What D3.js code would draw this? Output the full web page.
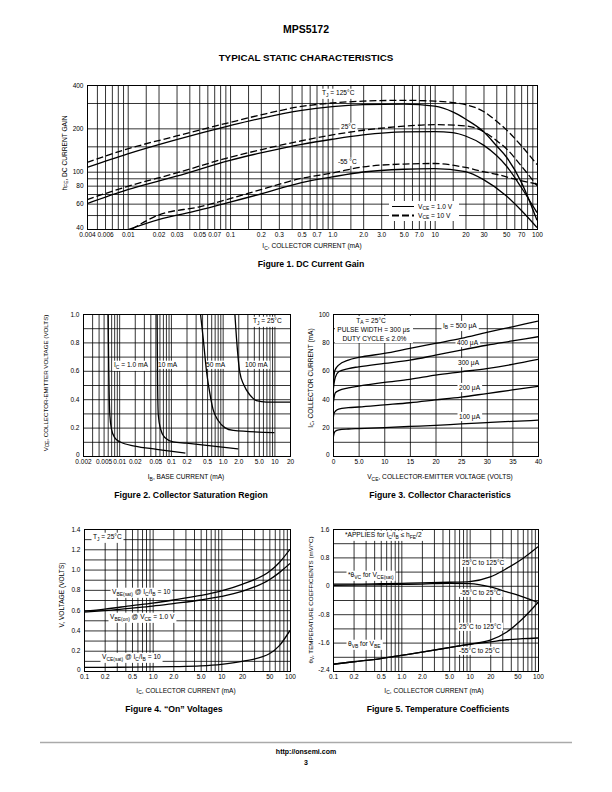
<!DOCTYPE html>
<html><head><meta charset="utf-8">
<script src="https://cdn.jsdelivr.net/npm/d3@7"></script>
<style>
body{margin:0;background:#fff}
svg text{font-family:"Liberation Sans",Arial,Helvetica,sans-serif;fill:#000}
</style></head><body>
<svg id="page" width="612" height="792" xmlns="http://www.w3.org/2000/svg"></svg>
<script>
// ================= DATA =================
// Figure 1 – DC current gain (IC mA, hFE)
const fig1XTicks = [0.004,0.006,0.01,0.02,0.03,0.05,0.07,0.1,0.2,0.3,0.5,0.7,1,2,3,5,7,10,20,30,50,70,100];
const fig1XLabels = ["0.004","0.006","0.01","0.02","0.03","0.05","0.07","0.1","0.2","0.3","0.5","0.7","1.0","2.0","3.0","5.0","7.0","10","20","30","50","70","100"];
const fig1YTicks = [40,60,80,100,200,400];
const fig1YLabels = ["40","60","80","100","200","400"];
const fig1YGrid = [50,60,70,80,90,100,150,200,300];
const hfe125V1  = [[0.004,107],[0.01,133],[0.03,167],[0.1,209],[0.2,235],[0.5,267],[1,283],[2,292],[5,295],[10,285],[15,260],[20,232],[30,190],[40,152],[50,127],[70,85],[100,46]];
const hfe125V10 = [[0.004,116],[0.01,144],[0.03,177],[0.1,220],[0.2,248],[0.5,284],[1,300],[2,309],[5,313],[10,309],[20,292],[30,262],[40,225],[50,196],[70,152],[100,112]];
const hfe25V1   = [[0.004,60],[0.01,75],[0.03,93],[0.1,120],[0.2,135],[0.5,155],[1,168],[2,180],[5,189],[10,190],[15,187],[20,177],[30,153],[40,130],[50,110],[70,78],[100,52]];
const hfe25V10  = [[0.004,64],[0.01,79],[0.03,98],[0.1,126],[0.2,142],[0.5,164],[1,180],[2,194],[5,207],[10,212],[20,208],[30,190],[40,165],[50,145],[70,110],[100,80]];
const hfe55V1   = [[0.0095,39],[0.02,46.5],[0.05,54],[0.1,61.5],[0.2,70],[0.5,84],[1,92],[2,99.5],[5,104],[10,105],[20,100],[30,88],[50,68],[70,54],[100,41]];
const hfe55V10  = [[0.011,40],[0.02,50],[0.05,57],[0.1,65],[0.2,75],[0.5,90],[1,98],[2,108],[5,113],[10,114],[20,107],[30,100],[40,96],[60,89],[100,82]];

// Figure 2 – collector saturation region (IB mA, VCE V)
const fig2XTicks = [0.002,0.005,0.01,0.02,0.05,0.1,0.2,0.5,1,2,5,10,20];
const fig2XLabels = ["0.002","0.005","0.01","0.02","0.05","0.1","0.2","0.5","1.0","2.0","5.0","10","20"];
const fig2YTicks = [0,0.2,0.4,0.6,0.8,1.0];
const fig2YLabels = ["0","0.2","0.4","0.6","0.8","1.0"];
const fig2YGrid = [0.1,0.2,0.3,0.4,0.5,0.6,0.7,0.8,0.9];
const sat1mA   = [[0.0061,1.0],[0.0063,0.59],[0.0066,0.29],[0.0071,0.19],[0.0082,0.13],[0.0103,0.10],[0.02,0.07],[0.053,0.047],[0.19,0.02]];
const sat10mA  = [[0.054,1.0],[0.055,0.59],[0.057,0.29],[0.063,0.19],[0.076,0.13],[0.11,0.10],[0.2,0.09],[0.49,0.075],[2.0,0.05]];
const sat50mA  = [[0.373,1.0],[0.42,0.83],[0.49,0.59],[0.56,0.45],[0.65,0.33],[0.82,0.25],[1.1,0.20],[1.6,0.18],[10,0.165]];
const sat100mA = [[1.72,1.0],[1.85,0.83],[2.14,0.59],[2.57,0.50],[3.35,0.43],[4.5,0.39],[7,0.38],[20,0.38]];

// Figure 3 – collector characteristics (VCE V, IC mA)
const fig3XTicks = [0,5,10,15,20,25,30,35,40];
const fig3XLabels = ["0","5.0","10","15","20","25","30","35","40"];
const fig3XGrid = [5,10,15,20,25,30,35];
const fig3YTicks = [0,20,40,60,80,100];
const fig3YLabels = ["0","20","40","60","80","100"];
const fig3YGrid = [10,20,30,40,50,60,70,80,90];
const ib100 = [[0,12],[0.2,15.8],[0.45,17.4],[1.1,18.4],[3,19],[5,19.3],[10,20],[15,20.8],[20,21.6],[25,22.6],[30,23.5],[35,24.4],[40,25.2]];
const ib200 = [[0,25],[0.2,30],[0.45,31.5],[1.1,33],[3,34],[5,34.5],[10,36],[15,37.5],[20,39.5],[25,41.5],[30,44],[35,46.5],[40,49]];
const ib300 = [[0,36],[0.2,41],[0.45,44.5],[1.1,46],[3,48],[5,49.2],[10,51.8],[15,54],[20,57],[25,59.3],[30,61.6],[35,64.5],[40,68]];
const ib400 = [[0,45],[0.2,51],[0.45,55.5],[1.1,59.3],[3,61.6],[5,62.8],[10,65.2],[15,67.5],[20,71],[25,74.6],[30,78],[35,81],[40,84]];
const ib500 = [[0,48],[0.15,55],[0.35,60],[1.1,64],[3,67.5],[5,69.4],[10,72.2],[15,75.8],[20,79.3],[25,82.8],[30,87],[35,91],[40,95]];

// Figure 4 – "On" voltages (IC mA, V)
const fig4XTicks = [0.1,0.2,0.5,1,2,5,10,20,50,100];
const fig4XLabels = ["0.1","0.2","0.5","1.0","2.0","5.0","10","20","50","100"];
const fig4YTicks = [0,0.2,0.4,0.6,0.8,1.0,1.2,1.4];
const fig4YLabels = ["0","0.2","0.4","0.6","0.8","1.0","1.2","1.4"];
const fig4YGrid = [0.1,0.2,0.3,0.4,0.5,0.6,0.7,0.8,0.9,1.0,1.1,1.2,1.3];
const vbeSat = [[0.1,0.59],[0.2,0.61],[0.5,0.645],[1,0.67],[2,0.70],[5,0.745],[10,0.79],[20,0.855],[50,0.98],[70,1.07],[100,1.2]];
const vbeOn  = [[0.1,0.58],[0.2,0.595],[0.5,0.62],[1,0.64],[2,0.665],[5,0.70],[10,0.735],[20,0.785],[50,0.9],[70,0.97],[100,1.06]];
const vceSat = [[0.1,0.035],[0.2,0.036],[0.5,0.038],[1,0.04],[2,0.043],[5,0.05],[10,0.065],[20,0.095],[50,0.17],[70,0.25],[100,0.40]];

// Figure 5 – temperature coefficients (IC mA, mV/°C)
const fig5XTicks = [0.1,0.2,0.5,1,2,5,10,20,50,100];
const fig5XLabels = ["0.1","0.2","0.5","1.0","2.0","5.0","10","20","50","100"];
const fig5YTicks = [-2.4,-1.6,-0.8,0,0.8,1.6];
const fig5YLabels = ["-2.4","-1.6","-0.8","0","0.8","1.6"];
const fig5YGrid = [-2.0,-1.6,-1.2,-0.8,-0.4,0,0.4,0.8,1.2];
const tcVcHi = [[0.1,0.05],[0.2,0.05],[0.5,0.06],[1,0.07],[2,0.08],[5,0.1],[10,0.12],[20,0.25],[35,0.49],[60,0.77],[100,1.1]];
const tcVcLo = [[0.1,0.01],[0.2,0.02],[0.5,0.03],[1,0.04],[2,0.05],[5,0.07],[10,0.06],[20,-0.03],[35,-0.17],[60,-0.31],[100,-0.47]];
const tcVbHi = [[0.1,-2.21],[0.2,-2.14],[0.5,-2.05],[1,-1.96],[2,-1.87],[5,-1.74],[10,-1.64],[20,-1.53],[35,-1.3],[60,-0.92],[100,-0.47]];
const tcVbLo = [[0.1,-2.21],[0.2,-2.14],[0.5,-2.05],[1,-1.96],[2,-1.87],[5,-1.74],[10,-1.65],[20,-1.58],[35,-1.52],[60,-1.49],[100,-1.47]];

// ================= DRAWING =================
const svg = d3.select('#page');
const FS = 6.6, TFS = 6.5;

function logGrid(lo, hi, mults) {
  const out = [];
  for (let e = Math.floor(Math.log10(lo)); e <= Math.ceil(Math.log10(hi)); e++)
    for (const m of mults) {
      const v = +(m * Math.pow(10, e)).toPrecision(6);
      if (v > lo * 1.0001 && v < hi * 0.9999) out.push(v);
    }
  return out;
}

function rich(t, str, fs) {
  const re = /_\{([^}]*)\}/g; let last = 0, m, pend = 0;
  const add = (s, sub) => {
    const ts = t.append('tspan').text(s);
    if (sub) { ts.attr('font-size', (fs * 0.75).toFixed(2)).attr('dy', (fs * 0.3).toFixed(2)); pend = -fs * 0.3; }
    else { if (pend) ts.attr('dy', pend.toFixed(2)); pend = 0; }
  };
  while ((m = re.exec(str))) { if (m.index > last) add(str.slice(last, m.index), false); add(m[1], true); last = re.lastIndex; }
  if (last < str.length) add(str.slice(last), false);
  return t;
}

function txt(g, x, y, str, o = {}) {
  const fs = o.fs || FS;
  const t = g.append('text').attr('x', x).attr('y', y).attr('font-size', fs)
    .attr('text-anchor', o.anchor || 'start');
  if (o.bold) t.attr('font-weight', 'bold');
  if (o.rotate) t.attr('transform', `rotate(-90,${x},${y})`);
  rich(t, str, fs);
  if (o.box) {
    const bb = t.node().getBBox();
    const px = o.padX ?? 1.5, py = o.padY ?? 0.6;
    g.insert('rect', () => t.node()).attr('x', bb.x - px).attr('y', bb.y - py)
      .attr('width', bb.width + 2 * px).attr('height', bb.height + 2 * py).attr('fill', '#fff');
  }
  return t;
}

function plot(o) {
  const g = svg.append('g');
  const x = (o.xLog ? d3.scaleLog() : d3.scaleLinear()).domain(o.xd).range([o.L, o.R]);
  const y = (o.yLog ? d3.scaleLog() : d3.scaleLinear()).domain(o.yd).range([o.B, o.T]);
  const clip = 'clip' + o.id;
  svg.append('defs').append('clipPath').attr('id', clip).append('rect')
    .attr('x', o.L).attr('y', o.T).attr('width', o.R - o.L).attr('height', o.B - o.T);
  const gGrid = g.append('g'), gLab = g.append('g'), gCur = g.append('g'), gFrame = g.append('g');
  const clean = s => { s.select('.domain').remove(); s.attr('font-family', null).attr('font-size', TFS); };
  gGrid.append('g').attr('transform', `translate(0,${o.B})`)
    .call(d3.axisBottom(x).tickValues(o.gx).tickSize(-(o.B - o.T)).tickFormat(''))
    .call(clean).selectAll('line').attr('stroke', '#000').attr('stroke-width', 0.8);
  gGrid.append('g').attr('transform', `translate(${o.L},0)`)
    .call(d3.axisLeft(y).tickValues(o.gy).tickSize(-(o.R - o.L)).tickFormat(''))
    .call(clean).selectAll('line').attr('stroke', '#000').attr('stroke-width', 0.8);
  gFrame.append('rect').attr('x', o.L + 0.5).attr('y', o.T + 0.5).attr('width', o.R - o.L).attr('height', o.B - o.T)
    .attr('fill', 'none').attr('stroke', '#000').attr('stroke-width', 1);
  gFrame.append('g').attr('transform', `translate(0,${o.B})`)
    .call(d3.axisBottom(x).tickValues(o.xt).tickFormat(d => o.xl[o.xt.indexOf(d)]).tickSize(0).tickPadding(3.2))
    .call(clean);
  gFrame.append('g').attr('transform', `translate(${o.L},0)`)
    .call(d3.axisLeft(y).tickValues(o.yt).tickFormat(d => o.yl[o.yt.indexOf(d)]).tickSize(0).tickPadding(3.5))
    .call(clean)
    .selectAll('.tick').filter(d => d === o.yd[0]).select('text').attr('transform', 'translate(0,-2)');
  return { g, x, y, clip, gLab, gCur };
}

function curve(P, data, dashed, w) {
  P.gCur.append('path').datum(data)
    .attr('fill', 'none').attr('stroke', '#000').attr('stroke-width', w || 1.3)
    .attr('stroke-dasharray', dashed ? '7,3' : null)
    .attr('clip-path', `url(#${P.clip})`)
    .attr('d', d3.line().x(d => P.x(d[0])).y(d => P.y(d[1])).curve(d3.curveMonotoneX));
}

// ---- Page header / footer ----
txt(svg, 306, 33, 'MPS5172', { anchor: 'middle', bold: true, fs: 10.5 });
txt(svg, 306, 61, 'TYPICAL STATIC CHARACTERISTICS', { anchor: 'middle', bold: true, fs: 9.8 });
svg.append('line').attr('x1', 40).attr('x2', 572).attr('y1', 742.5).attr('y2', 742.5)
  .attr('stroke', '#aaa').attr('stroke-width', 1.5);
txt(svg, 306, 754, 'http://onsemi.com', { anchor: 'middle', bold: true, fs: 7 });
txt(svg, 306, 765, '3', { anchor: 'middle', bold: true, fs: 7 });

// ---- Figure 1 ----
const P1 = plot({ id: 1, L: 87, T: 85, R: 537, B: 229, xLog: true, yLog: true, xd: [0.004, 100], yd: [40, 400],
  gx: logGrid(0.004, 100, [1, 1.5, 2, 3, 4, 5, 6, 7, 8, 9]), gy: fig1YGrid,
  xt: fig1XTicks, xl: fig1XLabels, yt: fig1YTicks, yl: fig1YLabels });
curve(P1, hfe125V1, false); curve(P1, hfe125V10, true);
curve(P1, hfe25V1, false);  curve(P1, hfe25V10, true);
curve(P1, hfe55V1, false);  curve(P1, hfe55V10, true);
txt(P1.gLab, 322, 95.3, 'T_{J} = 125°C', { box: true });
txt(P1.gLab, 341, 129.3, '25°C', { box: true });
txt(P1.gLab, 338, 164.3, '-55 °C', { box: true });
P1.gLab.append('rect').attr('x', 389).attr('y', 201).attr('width', 70).attr('height', 20).attr('fill', '#fff');
P1.gLab.append('line').attr('x1', 392).attr('x2', 414).attr('y1', 206.5).attr('y2', 206.5).attr('stroke', '#000').attr('stroke-width', 1);
P1.gLab.append('line').attr('x1', 392).attr('x2', 414).attr('y1', 215.5).attr('y2', 215.5).attr('stroke', '#000').attr('stroke-width', 1.8).attr('stroke-dasharray', '7,3');
txt(P1.gLab, 418, 208.5, 'V_{CE} = 1.0 V');
txt(P1.gLab, 418, 217.5, 'V_{CE} = 10 V');
txt(svg, 312, 248, 'I_{C}, COLLECTOR CURRENT (mA)', { anchor: 'middle' });
txt(svg, 66.5, 153, 'h_{FE}, DC CURRENT GAIN', { anchor: 'middle', rotate: true });
txt(svg, 311, 266.5, 'Figure 1. DC Current Gain', { anchor: 'middle', bold: true, fs: 8.7 });

// ---- Figure 2 ----
const P2 = plot({ id: 2, L: 83, T: 314, R: 290, B: 456, xLog: true, xd: [0.002, 20], yd: [0, 1],
  gx: logGrid(0.002, 20, [1, 2, 3, 4, 5, 6, 7, 8, 9]), gy: fig2YGrid,
  xt: fig2XTicks, xl: fig2XLabels, yt: fig2YTicks, yl: fig2YLabels });
[sat1mA, sat10mA, sat50mA, sat100mA].forEach(d => curve(P2, d, false));
txt(P2.gLab, 114, 367.3, 'I_{C} = 1.0 mA', { box: true });
txt(P2.gLab, 158, 367.3, '10 mA', { box: true });
txt(P2.gLab, 206, 367.3, '50 mA', { box: true });
txt(P2.gLab, 245, 367.3, '100 mA', { box: true });
txt(P2.gLab, 253, 323.3, 'T_{J} = 25°C', { box: true });
txt(svg, 186, 479, 'I_{B}, BASE CURRENT (mA)', { anchor: 'middle' });
txt(svg, 47.5, 383, 'V_{CE}, COLLECTOR-EMITTER VOLTAGE (VOLTS)', { anchor: 'middle', rotate: true, fs: 6.2 });
txt(svg, 191, 497.5, 'Figure 2. Collector Saturation Region', { anchor: 'middle', bold: true, fs: 8.7 });

// ---- Figure 3 ----
const P3 = plot({ id: 3, L: 333, T: 314, R: 538, B: 456, xd: [0, 40], yd: [0, 100],
  gx: fig3XGrid, gy: fig3YGrid, xt: fig3XTicks, xl: fig3XLabels, yt: fig3YTicks, yl: fig3YLabels });
[ib100, ib200, ib300, ib400, ib500].forEach(d => curve(P3, d, false));
P3.gLab.append('rect').attr('x', 335).attr('y', 316).attr('width', 78).attr('height', 27).attr('fill', '#fff');
txt(P3.gLab, 371, 322.5, 'T_{A} = 25°C', { anchor: 'middle' });
txt(P3.gLab, 373.5, 331.5, 'PULSE WIDTH = 300 μs', { anchor: 'middle' });
txt(P3.gLab, 374.5, 340.5, 'DUTY CYCLE ≤ 2.0%', { anchor: 'middle' });
txt(P3.gLab, 443, 327.5, 'I_{B} = 500 μA', { box: true });
txt(P3.gLab, 457, 344.5, '400 μA', { box: true });
txt(P3.gLab, 458, 364.5, '300 μA', { box: true });
txt(P3.gLab, 459, 389.5, '200 μA', { box: true });
txt(P3.gLab, 459, 418.5, '100 μA', { box: true });
txt(svg, 440, 479, 'V_{CE}, COLLECTOR-EMITTER VOLTAGE (VOLTS)', { anchor: 'middle' });
txt(svg, 312.5, 378, 'I_{C}, COLLECTOR CURRENT (mA)', { anchor: 'middle', rotate: true });
txt(svg, 440, 497.5, 'Figure 3. Collector Characteristics', { anchor: 'middle', bold: true, fs: 8.7 });

// ---- Figure 4 ----
const P4 = plot({ id: 4, L: 84, T: 529, R: 290, B: 671, xLog: true, xd: [0.1, 100], yd: [0, 1.4],
  gx: logGrid(0.1, 100, [1, 2, 3, 4, 5, 6, 7, 8, 9]), gy: fig4YGrid,
  xt: fig4XTicks, xl: fig4XLabels, yt: fig4YTicks, yl: fig4YLabels });
[vbeSat, vbeOn, vceSat].forEach(d => curve(P4, d, false));
txt(P4.gLab, 93, 539.3, 'T_{J} = 25°C', { box: true });
txt(P4.gLab, 112, 594.3, 'V_{BE(sat)} @ I_{C}/I_{B} = 10', { box: true });
txt(P4.gLab, 110, 619.3, 'V_{BE(on)} @ V_{CE} = 1.0 V', { box: true });
txt(P4.gLab, 102, 659.3, 'V_{CE(sat)} @ I_{C}/I_{B} = 10', { box: true });
txt(svg, 186, 692.5, 'I_{C}, COLLECTOR CURRENT (mA)', { anchor: 'middle' });
txt(svg, 64, 595, 'V, VOLTAGE (VOLTS)', { anchor: 'middle', rotate: true });
txt(svg, 174, 711.5, 'Figure 4. “On” Voltages', { anchor: 'middle', bold: true, fs: 8.7 });

// ---- Figure 5 ----
const P5 = plot({ id: 5, L: 333, T: 529, R: 538, B: 671, xLog: true, xd: [0.1, 100], yd: [-2.4, 1.6],
  gx: logGrid(0.1, 100, [1, 2, 3, 4, 5, 6, 7, 8, 9]), gy: fig5YGrid,
  xt: fig5XTicks, xl: fig5XLabels, yt: fig5YTicks, yl: fig5YLabels });
[tcVcHi, tcVcLo, tcVbHi, tcVbLo].forEach(d => curve(P5, d, false));
txt(P5.gLab, 345, 537.3, '*APPLIES for I_{C}/I_{B} ≤ h_{FE}/2', { box: true });
txt(P5.gLab, 462, 565.3, '25°C to 125°C', { box: true });
txt(P5.gLab, 348, 577.3, '*θ_{VC} for V_{CE(sat)}', { box: true });
txt(P5.gLab, 460, 595.3, '-55°C to 25°C', { box: true });
txt(P5.gLab, 459, 629.3, '25°C to 125°C', { box: true });
txt(P5.gLab, 348, 646.3, 'θ_{VB} for V_{BE}', { box: true });
txt(P5.gLab, 459, 653.3, '-55°C to 25°C', { box: true });
txt(svg, 434, 692.5, 'I_{C}, COLLECTOR CURRENT (mA)', { anchor: 'middle' });
txt(svg, 312.5, 600, 'θ_{V}, TEMPERATURE COEFFICIENTS (mV/°C)', { anchor: 'middle', rotate: true, fs: 6.2 });
txt(svg, 438, 711.5, 'Figure 5. Temperature Coefficients', { anchor: 'middle', bold: true, fs: 8.7 });
</script>
</body></html>
